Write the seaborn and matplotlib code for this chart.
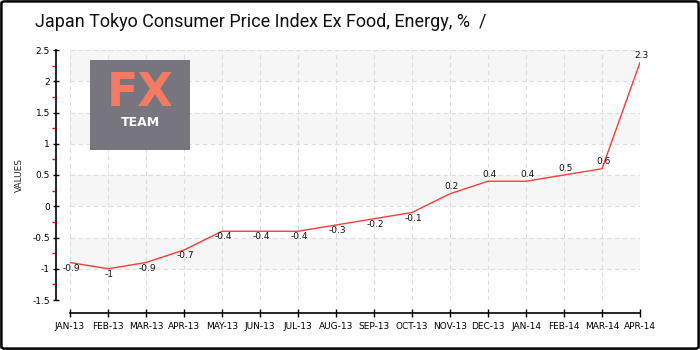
import matplotlib
matplotlib.use("Agg")
import matplotlib.pyplot as plt
from matplotlib.patches import FancyBboxPatch
from matplotlib.ticker import MultipleLocator, FixedLocator
import pandas as pd
import seaborn as sns

months = ["JAN-13", "FEB-13", "MAR-13", "APR-13", "MAY-13", "JUN-13", "JUL-13", "AUG-13",
          "SEP-13", "OCT-13", "NOV-13", "DEC-13", "JAN-14", "FEB-14", "MAR-14", "APR-14"]
values = [-0.9, -1.0, -0.9, -0.7, -0.4, -0.4, -0.4, -0.3,
          -0.2, -0.1, 0.2, 0.4, 0.4, 0.5, 0.6, 2.3]
value_labels = ["-0.9", "-1", "-0.9", "-0.7", "-0.4", "-0.4", "-0.4", "-0.3",
                "-0.2", "-0.1", "0.2", "0.4", "0.4", "0.5", "0.6", "2.3"]
title = "Japan Tokyo Consumer Price Index Ex Food, Energy, %  /"

df = pd.DataFrame({"month": months, "value": values})

sns.set_style("white")
plt.rcParams["font.family"] = ["DejaVu Sans"]

fig = plt.figure(figsize=(7, 3.5), dpi=100)
ax = fig.add_axes([70 / 700, 50 / 350, 570 / 700, 250 / 350])

# alternating bands
for lo in [-1.0, 0.0, 1.0, 2.0]:
    ax.axhspan(lo, lo + 0.5, color="#f6f6f6", zorder=0, lw=0)

sns.lineplot(data=df, x="month", y="value", sort=False, color="#ff3b3b", lw=1, ax=ax, zorder=3)

for i, (v, lab) in enumerate(zip(values, value_labels)):
    off = 5 if v > 0 else -4
    ax.annotate(lab, (i, v), xytext=(1, off), textcoords="offset points",
                ha="center", va="center", fontsize=6.5, color="#111111", zorder=4)

ax.set_xlim(0, len(months) - 1)
ax.set_ylim(-1.5, 2.5)
ax.yaxis.set_major_locator(MultipleLocator(0.5))
ax.yaxis.set_minor_locator(FixedLocator([-1.25, -0.75, -0.25, 0.25, 0.75, 1.25, 1.75, 2.25]))
ax.yaxis.set_major_formatter(plt.FuncFormatter(lambda v, p: f"{v:g}"))
ax.grid(True, which="major", color="#dddddd", ls=(0, (4, 3)), lw=0.8)
ax.set_axisbelow(True)

for s in ["top", "right"]:
    ax.spines[s].set_visible(False)
ax.spines["left"].set_position(("outward", 10))
ax.spines["bottom"].set_position(("outward", 9))
for s in ["left", "bottom"]:
    ax.spines[s].set_color("black")
    ax.spines[s].set_linewidth(1.2)

ax.tick_params(axis="y", which="major", direction="inout", length=5, width=1, colors="black",
               labelsize=6.5, left=True, pad=2)
ax.tick_params(axis="y", which="minor", direction="out", length=3, width=1, color="red", left=True)
ax.tick_params(axis="x", which="major", direction="inout", length=6, width=1, colors="black",
               labelsize=6.5, bottom=True)

ax.set_xlabel("")
ax.set_ylabel("VALUES", fontsize=6.5, labelpad=6)

fig.text(35 / 700, 1 - 22 / 350, title, fontsize=13, va="center", ha="left",
         family=["Roboto", "DejaVu Sans"], color="#111111")

# logo
logo = fig.add_axes([90 / 700, 1 - 150 / 350, 100 / 700, 90 / 350])
logo.set_facecolor("#77767f")
logo.set_xticks([])
logo.set_yticks([])
for s in logo.spines.values():
    s.set_visible(False)
logo.text(0.5, 0.63, "FX", color="#f47a62", fontsize=33, fontweight="bold", ha="center",
          va="center", transform=logo.transAxes)
logo.text(0.5, 0.31, "TEAM", color="white", fontsize=9, fontweight="bold", ha="center",
          va="center", transform=logo.transAxes)

fig.patches.append(FancyBboxPatch((0.002, 0.004), 0.996, 0.992, boxstyle="round,pad=0,rounding_size=0.005",
                                  transform=fig.transFigure, fill=False, edgecolor="black", lw=1.8))

fig.savefig("out.png", dpi=100)
